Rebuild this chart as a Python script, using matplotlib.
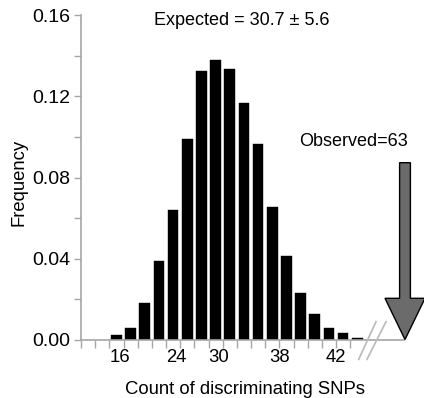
import numpy as np
import matplotlib
matplotlib.use("Agg")
import matplotlib.pyplot as plt
from matplotlib.patches import Polygon
from matplotlib.lines import Line2D
from matplotlib.transforms import blended_transform_factory

plt.rcParams['font.family'] = ['Liberation Sans', 'DejaVu Sans']

# ---- data ----
bin_index = list(range(2, 20))
frequency = [0.0023, 0.0059, 0.0184, 0.0389, 0.0639, 0.0990, 0.1323, 0.1377,
             0.1333, 0.1168, 0.0963, 0.0656, 0.0412, 0.0230, 0.0126, 0.0061,
             0.0033, 0.0011]
xtick_labels = ["16", "24", "30", "38", "42"]
xtick_pos = [2.75, 6.72, 9.69, 14.03, 18.0]
ytick_vals = [0.00, 0.04, 0.08, 0.12, 0.16]
expected_mean, expected_sd = 30.7, 5.6
observed = 63

W, H = 424, 398
fig = plt.figure(figsize=(W / 100, H / 100), dpi=100)
ax = fig.add_axes([81 / W, 58 / H, (404 - 81) / W, 325 / H])

axis_gray = '#a6a6a6'
ax.bar(np.array(bin_index) + 0.5, frequency, width=0.76, color='black',
       edgecolor='black', linewidth=0.3)

ax.set_xlim(0, 22.8)
ax.set_ylim(0, 0.16)

for s in ['top', 'right']:
    ax.spines[s].set_visible(False)
for s in ['left', 'bottom']:
    ax.spines[s].set_color(axis_gray)
    ax.spines[s].set_linewidth(1.2)

# x ticks: marks at bin edges, labels separately
ax.set_xticks(np.arange(0, 20))
ax.set_xticklabels([])
ax.tick_params(axis='x', which='major', length=6, width=1.0, color=axis_gray,
               direction='out')
trans = blended_transform_factory(ax.transData, fig.transFigure)
for p, lab in zip(xtick_pos, xtick_labels):
    ax.text(p, 1 - 357 / H, lab, transform=trans, fontsize=13.3,
            ha='center', va='center')

ax.set_yticks(ytick_vals)
ax.set_yticklabels([f"{v:.2f}" for v in ytick_vals], fontsize=14)
ax.set_yticks(np.arange(0.02, 0.16, 0.04), minor=True)
ax.tick_params(axis='y', which='both', length=5, width=1.0, color=axis_gray,
               direction='out', pad=2.5)

ax.set_xlabel("Count of discriminating SNPs", fontsize=13.3)
ax.xaxis.set_label_coords(244.7 / W, 1 - 389 / H, transform=fig.transFigure)
ax.xaxis.label.set_va('center')
ax.set_ylabel("Frequency", fontsize=13.3)
ax.yaxis.set_label_coords(19 / W, 1 - 182 / H, transform=fig.transFigure)
ax.yaxis.label.set_va('center')

# helper: figure pixel coords (from top-left) -> figure fraction
def fp(x, y):
    return (x / W, 1 - y / H)

# axis break marks
for (x0, y0, x1, y1) in [(358.7, 359.3, 376, 321.7), (367, 359.3, 386, 321.7)]:
    a, b = fp(x0, y0)
    c, d = fp(x1, y1)
    fig.add_artist(Line2D([a, c], [b, d], transform=fig.transFigure,
                          color='#bdbdbd', linewidth=1.3))

# observed arrow
cx = 405
sh = 5.4
hh = 20
pts = [(cx - sh, 162.7), (cx + sh, 162.7), (cx + sh, 298.3), (cx + hh, 298.3),
       (cx, 339.5), (cx - hh, 298.3), (cx - sh, 298.3)]
poly = Polygon([fp(x, y) for x, y in pts], closed=True, transform=fig.transFigure,
               facecolor='#6b6b6b', edgecolor='black', linewidth=1.0)
fig.add_artist(poly)

fig.text(*fp(353.7, 141.7), f"Observed={observed}", fontsize=13,
         ha='center', va='center')
fig.text(*fp(241.5, 20.7), f"Expected = {expected_mean} \u00b1 {expected_sd}",
         fontsize=13, ha='center', va='center')

fig.savefig("out.png", dpi=100)
